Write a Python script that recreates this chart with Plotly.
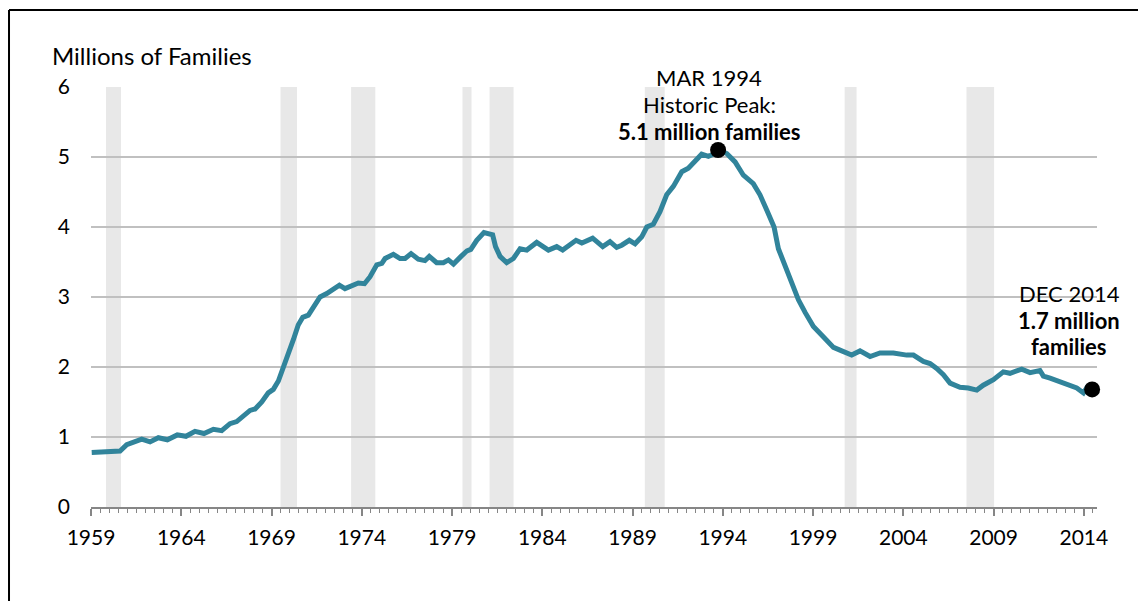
import plotly.graph_objects as go

# ---- data (decimal years, millions of families) ----
dates = [1959.46, 1959.92, 1960.29, 1960.64, 1961.03, 1961.40, 1961.75, 1962.23, 1962.69, 1963.15,
         1963.65, 1964.20, 1964.68, 1965.18, 1965.68, 1966.20, 1966.66, 1967.12, 1967.49, 1967.77,
         1968.23, 1968.51, 1968.88, 1969.24, 1969.52, 1969.80, 1970.07, 1970.35, 1970.63, 1970.90,
         1971.15, 1971.46, 1971.74, 1972.11, 1972.48, 1972.84, 1973.18, 1973.49, 1973.95, 1974.23,
         1974.57, 1974.88, 1975.25, 1975.53, 1975.71, 1976.17, 1976.54, 1976.82, 1977.15, 1977.55,
         1977.92, 1978.16, 1978.57, 1978.94, 1979.22, 1979.50, 1979.92, 1980.25, 1980.46, 1980.79,
         1981.19, 1981.67, 1981.83, 1982.08, 1982.45, 1982.82, 1983.19, 1983.56, 1984.11, 1984.76,
         1985.22, 1985.55, 1986.29, 1986.61, 1987.21, 1987.77, 1988.17, 1988.54, 1988.82, 1989.24,
         1989.56, 1989.93, 1990.21, 1990.57, 1990.94, 1991.31, 1991.68, 1992.15, 1992.51, 1992.88,
         1993.25, 1993.62, 1993.90, 1994.16, 1994.64, 1995.10, 1995.56, 1996.11, 1996.48, 1996.86,
         1997.26, 1997.50, 1997.87, 1998.24, 1998.61, 1998.98, 1999.44, 2000.00, 2000.55, 2001.01,
         2001.56, 2002.02, 2002.58, 2003.13, 2003.87, 2004.61, 2004.98, 2005.53, 2005.90, 2006.27,
         2006.64, 2007.01, 2007.56, 2008.02, 2008.49, 2008.85, 2009.41, 2009.96, 2010.33, 2010.98,
         2011.44, 2011.99, 2012.18, 2012.55, 2013.10, 2013.56, 2014.03, 2014.40, 2014.55, 2014.71]
families = [0.78, 0.79, 0.80, 0.79, 0.80, 0.89, 0.92, 0.97, 0.93, 0.99,
            0.96, 1.03, 1.01, 1.08, 1.05, 1.11, 1.09, 1.19, 1.22, 1.28,
            1.38, 1.40, 1.50, 1.63, 1.68, 1.80, 1.98, 2.17, 2.39, 2.60,
            2.71, 2.74, 2.84, 3.00, 3.05, 3.12, 3.17, 3.12, 3.16, 3.20,
            3.19, 3.29, 3.46, 3.48, 3.55, 3.61, 3.55, 3.55, 3.62, 3.54,
            3.52, 3.58, 3.49, 3.49, 3.53, 3.47, 3.58, 3.66, 3.68, 3.81,
            3.92, 3.89, 3.72, 3.58, 3.49, 3.55, 3.69, 3.67, 3.78, 3.67,
            3.72, 3.67, 3.81, 3.77, 3.84, 3.72, 3.79, 3.71, 3.74, 3.81,
            3.76, 3.86, 4.00, 4.04, 4.22, 4.46, 4.58, 4.79, 4.84, 4.93,
            5.04, 5.01, 5.04, 5.10, 5.05, 4.93, 4.74, 4.62, 4.46, 4.24,
            4.00, 3.69, 3.43, 3.20, 2.96, 2.78, 2.58, 2.43, 2.28, 2.23,
            2.17, 2.23, 2.15, 2.20, 2.20, 2.17, 2.17, 2.08, 2.05, 1.98,
            1.89, 1.77, 1.71, 1.70, 1.67, 1.74, 1.82, 1.93, 1.91, 1.97,
            1.92, 1.95, 1.87, 1.84, 1.79, 1.73, 1.70, 1.63, 1.69, 1.62]

peak_date, peak_value = 1994.16, 5.1
last_date, last_value = 2014.88, 1.68

recession_start = [1960.25, 1969.92, 1973.83, 1980.00, 1981.50, 1990.10, 2001.17, 2007.92]
recession_end = [1961.08, 1970.83, 1975.17, 1980.50, 1982.83, 1991.20, 2001.83, 2009.45]

tick_positions = [1959.42, 1964.42, 1969.42, 1974.42, 1979.42, 1984.42,
                  1989.42, 1994.42, 1999.42, 2004.42, 2009.42, 2014.42]
tick_labels = ["1959", "1964", "1969", "1974", "1979", "1984",
               "1989", "1994", "1999", "2004", "2009", "2014"]
y_ticks = [0, 1, 2, 3, 4, 5, 6]

peak_text = ["MAR 1994", "Historic Peak:", "<b>5.1 million families</b>"]
last_text = ["DEC 2014", "<b>1.7 million</b>", "<b>families</b>"]

FONT = "Lato"
LINE_COLOR = "#31849B"
AXIS_GRAY = "#868686"

fig = go.Figure()

fig.add_trace(go.Scatter(x=dates, y=families, mode="lines",
                         line=dict(color=LINE_COLOR, width=5), hoverinfo="skip",
                         showlegend=False))
fig.add_trace(go.Scatter(x=[peak_date, last_date], y=[peak_value, last_value], mode="markers",
                         marker=dict(color="black", size=16), showlegend=False,
                         cliponaxis=False))

shapes = []
for s, e in zip(recession_start, recession_end):
    shapes.append(dict(type="rect", xref="x", yref="y", x0=s, x1=e, y0=0, y1=6,
                       fillcolor="#E8E8E8", line=dict(width=0), layer="below"))

# outer frame (just inside the figure edges)
L, R, T, B = -0.0815, 1.0437, 1.1833, -0.30
frame = dict(color="black", width=2)
shapes.append(dict(type="line", xref="paper", yref="paper", x0=L, x1=L, y0=B, y1=T, line=frame))
shapes.append(dict(type="line", xref="paper", yref="paper", x0=L, x1=R, y0=T, y1=T, line=frame))
shapes.append(dict(type="line", xref="paper", yref="paper", x0=R, x1=R, y0=B, y1=T, line=frame))

annotations = [
    dict(xref="paper", yref="paper", x=-0.0408, y=1.074, xanchor="left", yanchor="middle",
         text="Millions of Families", showarrow=False, font=dict(family=FONT, size=24, color="black")),
]
for txt, yp in zip(peak_text, [1.0238, 0.9595, 0.8952]):
    annotations.append(dict(xref="x", yref="paper", x=1993.66, y=yp, text=txt, showarrow=False,
                            xanchor="center", yanchor="middle",
                            font=dict(family=FONT, size=22, color="black")))
for txt, yp in zip(last_text, [0.5095, 0.4452, 0.381]):
    annotations.append(dict(xref="x", yref="paper", x=2013.60, y=yp, text=txt, showarrow=False,
                            xanchor="center", yanchor="middle",
                            font=dict(family=FONT, size=22, color="black")))

fig.update_layout(
    width=1138, height=593,
    margin=dict(l=83, r=49, t=79, b=94),
    paper_bgcolor="white", plot_bgcolor="white",
    shapes=shapes, annotations=annotations,
    font=dict(family=FONT, color="black"),
    xaxis=dict(range=[1959.42, 2015.15], showgrid=False, zeroline=False,
               showline=True, linecolor=AXIS_GRAY, linewidth=2,
               ticks="outside", ticklen=7, tickwidth=1.5, tickcolor=AXIS_GRAY,
               tickmode="array", tickvals=tick_positions, ticktext=tick_labels,
               tickfont=dict(family=FONT, size=21, color="black"), ticklabelstandoff=4,
               minor=dict(ticks="outside", ticklen=4, tickwidth=1, tickcolor=AXIS_GRAY,
                          tick0=1959.42, dtick=0.5, showgrid=False)),
    yaxis=dict(range=[0, 6], tickmode="array", tickvals=y_ticks, showgrid=True,
               gridcolor="#C0C0C0", gridwidth=1.5, zeroline=False, showline=False,
               ticks="", tickfont=dict(family=FONT, size=21, color="black"),
               ticklabelstandoff=20),
)

fig.write_html("out.html")
